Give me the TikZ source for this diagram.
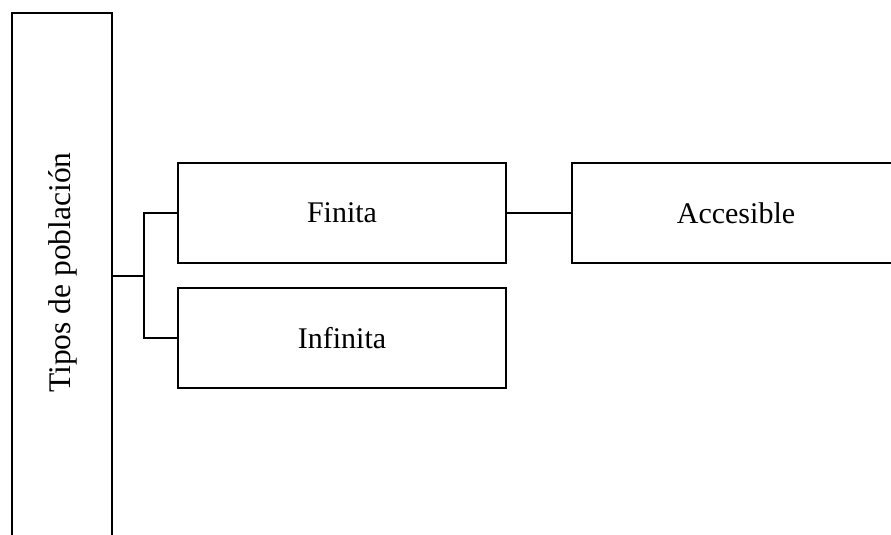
\documentclass[tikz,border=0pt]{standalone}
\usepackage{fontspec}
\setmainfont{Liberation Serif}
\begin{document}
\begin{tikzpicture}[x=1pt,y=-1pt,
  box/.style={draw=black, line width=1.8pt, inner sep=0pt, minimum width=328pt, minimum height=100pt,
              font=\fontsize{30}{36}\selectfont},
  link/.style={draw=black, line width=1.8pt},
  lbl/.style={inner sep=0pt, font=\fontsize{31.5}{38}\selectfont}]
\useasboundingbox (0,0) rectangle (891,535);
\clip (0,0) rectangle (891,535);
% vertical title box, running off the lower edge
\node[draw=black, line width=1.8pt, inner sep=0pt, minimum width=100pt, minimum height=547pt] (tipos) at (62,286.5) {};
\node[lbl, rotate=90] (tiposlbl) at (63,272.5) {Tipos de población};
% branch boxes
\node[box] (fin) at (342,213) {Finita};
\node[box] (inf) at (342,338) {Infinita};
\node[box] (acc) at (736,213) {Accesible};
% bracket joining the title to both branches
\coordinate (j) at (144,276);
\draw[link] (j -| tipos.east) -- (j);
\draw[link] (fin.west) -- (fin.west -| j) -- (inf.west -| j) -- (inf.west);
\draw[link] (fin.east) -- (acc.west);
\end{tikzpicture}
\end{document}
